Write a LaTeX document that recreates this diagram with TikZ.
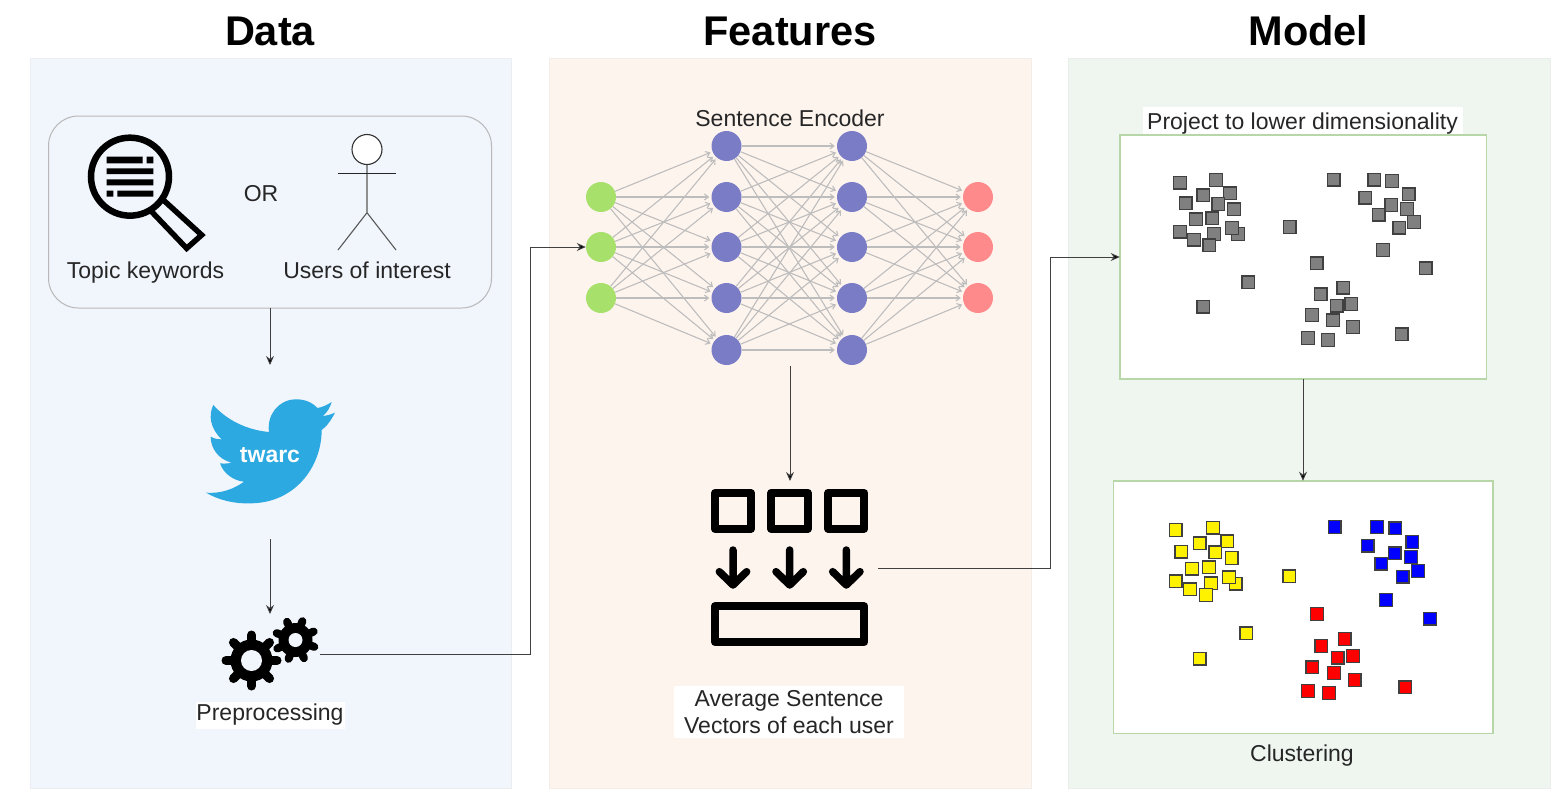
\documentclass[tikz,border=0pt]{standalone}
\usepackage{fontspec}
\setmainfont{Liberation Sans}
\usetikzlibrary{arrows.meta}
\definecolor{dataBg}{HTML}{F1F5FC}
\definecolor{featBg}{HTML}{FEF4EE}
\definecolor{modBg}{HTML}{EFF6F0}
\definecolor{inC}{HTML}{A8E06C}
\definecolor{hidC}{HTML}{7A7DC6}
\definecolor{outC}{HTML}{FF8A8C}
\definecolor{edgeC}{HTML}{BDBDBD}
\definecolor{frameG}{HTML}{B7D7A8}
\definecolor{birdC}{HTML}{2CA9E1}
\tikzset{
  panel/.style={draw=#1!92!black!60!white,line width=0.5pt,fill=#1},
  ttl/.style={font=\fontsize{41.5}{44}\selectfont\bfseries,text=black},
  lbl/.style={font=\fontsize{23}{27}\selectfont,text=black!85,align=center,inner sep=0pt},
  whitelbl/.style={lbl,fill=white},
  conn/.style={draw=black!75,line width=0.9pt,-{Stealth[length=9pt,width=8pt,fill=black]}},
  edge/.style={draw=edgeC,line width=1.1pt,-{Straight Barb[length=4pt,width=6pt]},shorten >=2pt},
  neuron/.style={circle,inner sep=0pt,minimum size=30pt},
  icon/.style={inner sep=0pt,outer sep=0pt},
  frame/.style={draw=frameG,line width=1.5pt,fill=white,inner sep=0pt,outer sep=0pt},
  sq/.style={draw=black!75,line width=1.3pt,minimum size=12.5pt,inner sep=0pt},
  blk/.style={draw=black,line join=round},
}
\begin{document}
\begin{tikzpicture}[x=1pt,y=-1pt]
\useasboundingbox (0,0) rectangle (1567,803);
\fill[white] (0,0) rectangle (1567,803);
% panels
\draw[panel=dataBg] (30,58) rectangle (511,788);
\draw[panel=featBg] (549,58) rectangle (1031,788);
\draw[panel=modBg] (1068,58) rectangle (1550,788);
\node[ttl] (t1) at (270,31) {Data};
\node[ttl] (t2) at (790,31) {Features};
\node[ttl] (t3) at (1308.5,31) {Model};
% query box
\node[draw=black!28,line width=1pt,rounded corners=30pt,minimum width=443pt,minimum height=192pt,inner sep=0pt,outer sep=0pt] (query) at (270,212) {};
% magnifier
\begin{scope}[shift={(30,100)},x=0.33333pt,y=-0.33333pt]
  \draw[black,line width=6.5pt] (300,230) circle[radius=117];
  \draw[black,line width=5.5pt,line join=miter] (400,300) -- (515,405) -- (470,445) -- (365,335);
  \fill[black] (230,170) rectangle (338,190) (350,170) rectangle (370,190)
    (230,205) rectangle (370,222) (230,238) rectangle (370,256)
    (230,272) rectangle (250,290) (262,272) rectangle (370,290);
\end{scope}
\node[lbl] (kw) at (145.5,273) {Topic keywords};
\node[lbl] (ortxt) at (261,194) {OR};
% stick figure
\draw[black!65,line width=1.1pt] (367,164) -- (367,212.7) (367,212.7) -- (338,250) (367,212.7) -- (396,250);
\draw[black!85,line width=1pt] (338,173.3) -- (396,173.3);
\draw[black!80,line width=1.1pt,fill=white] (367,149.5) circle[radius=15];
\node[lbl] (us) at (367,270) {Users of interest};
% twarc bird
\node[icon,minimum width=130pt,minimum height=174pt] (bird) at (270,452) {};
\begin{scope}[shift={(180,380)},x=0.33333pt,y=-0.33333pt]
\fill[birdC] (455,66)
 .. controls (440,76) and (425,82) .. (412,84)
 .. controls (395,65) and (370,57) .. (345,58)
 .. controls (295,60) and (260,105) .. (267,156)
 .. controls (200,150) and (140,120) .. (100,75)
 .. controls (85,105) and (90,145) .. (125,178)
 .. controls (112,178) and (100,175) .. (92,170)
 .. controls (92,205) and (115,238) .. (155,248)
 .. controls (143,251) and (130,251) .. (120,250)
 .. controls (130,280) and (160,302) .. (192,305)
 .. controls (165,325) and (125,342) .. (78,338)
 .. controls (115,360) and (165,372) .. (210,370)
 .. controls (345,370) and (425,260) .. (425,150)
 .. controls (440,140) and (455,118) .. (465,98)
 .. controls (452,104) and (440,107) .. (428,108)
 .. controls (442,98) and (450,82) .. (455,66) -- cycle;
\end{scope}
\node[icon,font=\fontsize{23}{25}\selectfont\bfseries,text=white] (twarc) at (270,455) {twarc};
% gears
\node[icon,minimum width=100pt,minimum height=80pt] (gears) at (270,654) {};
\coordinate (gs) at (295.5,640);
\coordinate (gb) at (251.5,660.5);
\foreach \a in {20,65,...,335} \draw[black,line width=8pt,line cap=round] (gs) -- ++(\a:20);
\fill[black] (gs) circle[radius=17];
\fill[dataBg] (gs) circle[radius=7];
\foreach \a in {0,45,...,315} \draw[black,line width=9pt,line cap=round] (gb) -- ++(\a:25.5);
\fill[black] (gb) circle[radius=21];
\fill[dataBg] (gb) circle[radius=10.5];
\node[whitelbl,minimum width=149pt,minimum height=27pt] (prep) at (270,715) {Preprocessing};
% network
\node[lbl] (enc) at (790,118.5) {Sentence Encoder};
\foreach \n/\y in {1/197,2/247,3/298} {
  \node[neuron,fill=inC] (i\n) at (601,\y) {};
  \node[neuron,fill=outC] (o\n) at (978,\y) {};
}
\foreach \n/\y in {1/146,2/197,3/247,4/298,5/350} {
  \node[neuron,fill=hidC] (a\n) at (726.5,\y) {};
  \node[neuron,fill=hidC] (b\n) at (852,\y) {};
}
\foreach \p in {1,2,3} \foreach \q in {1,...,5} {
  \draw[edge] (i\p) -- (a\q);
  \draw[edge] (b\q) -- (o\p);
}
\foreach \p in {1,...,5} \foreach \q in {1,...,5} \draw[edge] (a\p) -- (b\q);
\coordinate (netout) at (790,366);
% average icon
\node[icon,minimum width=176pt,minimum height=174pt] (avg) at (790,568) {};
\begin{scope}[shift={(660,470)},x=0.33333pt,y=-0.33333pt]
  \foreach \xa/\xb in {165/273,334/443,505/613}
    \draw[blk,line width=8.2pt] (\xa,69) rectangle (\xb,176);
  \draw[blk,line width=8.2pt] (165,409) rectangle (613,516);
  \foreach \xc in {219,389,559}
    \draw[black,line width=7.5pt,line cap=round,line join=round]
      (\xc,240) -- (\xc,345) (\xc-41,305) -- (\xc,345) -- (\xc+41,305);
\end{scope}
\node[whitelbl,minimum width=230pt,minimum height=52pt] (avgl) at (789,712) {Average Sentence\\Vectors of each user};
% model frames
\node[whitelbl,minimum width=320pt,minimum height=34pt] (projl) at (1302.5,124) {Project to lower dimensionality};
\node[frame,minimum width=366.5pt,minimum height=244pt] (proj) at (1303,257) {};
\node[frame,minimum width=379.5pt,minimum height=252.5pt] (clus) at (1303,607) {};
\node[lbl] (clusl) at (1302,756) {Clustering};
% grey points
\begin{scope}[shift={(1110,130)},x=0.33333pt,y=-0.33333pt]
\foreach[count=\n] \x/\y in {210/158,318/150,280/196,360/190,227/220,325/222,372/238,258/268,307/265,210/305,252/329,312/312,384/312,366/294,298/346,415/457,280/530,539/291,
 620/400,632/493,700/473,680/527,724/522,606/555,669/571,729/591,594/624,654/630,875/613,
 671/149,793/149,846/153,896/193,766/203,844/225,891/237,806/254,912/276,868/293,819/360,947/415}
  \node[sq,fill=black!50] (g\n) at (\x,\y) {};
\end{scope}
% coloured points
\begin{scope}[shift={(1105,475)},x=0.33333pt,y=-0.33333pt]
\foreach[count=\n] \x/\y in {212/165,324/158,284/205,367/199,229/230,331/232,380/249,261/281,312/277,212/319,255/343,318/325,392/326,372/307,303/360,424/475,284/551,553/304}
  \node[sq,fill=yellow] (y\n) at (\x,\y) {};
\foreach[count=\n] \x/\y in {636/417,649/513,719/492,698/548,744/543,622/577,687/594,749/615,609/648,672/654,901/637}
  \node[sq,fill=red] (r\n) at (\x,\y) {};
\foreach[count=\n] \x/\y in {689/156,816/156,871/160,922/201,788/212,869/235,918/246,829/266,939/288,893/305,843/375,975/431}
  \node[sq,fill=blue] (c\n) at (\x,\y) {};
\end{scope}
% connectors
\draw[conn] (query.south) -- (bird.north);
\draw[conn] (bird.south) -- (gears.north);
\draw[conn] (gears.east) -- (530,654) |- (i2.west);
\draw[conn] (netout) -- (avg.north);
\draw[conn] (avg.east) -- (1050,568) |- (proj.west);
\draw[conn] (proj.south) -- (clus.north);
\end{tikzpicture}
\end{document}
